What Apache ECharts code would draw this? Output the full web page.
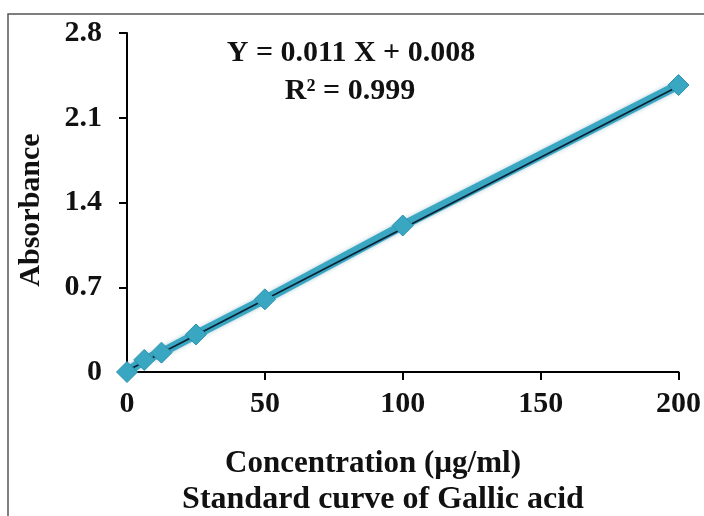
<!DOCTYPE html>
<html>
<head>
<meta charset="utf-8">
<script src="https://cdn.jsdelivr.net/npm/echarts@6/dist/echarts.min.js"></script>
<style>
  html, body { margin: 0; padding: 0; background: #fff; }
  #chart { width: 704px; height: 516px; }
</style>
</head>
<body>
<div id="chart"></div>
<script>
    // data
    const concentration = [0, 6.25, 12.5, 25, 50, 100, 200];
    const absorbance = [0, 0.1, 0.16, 0.31, 0.6, 1.21, 2.37];
    const trendX = [0, 200];
    const trendY = [0.01, 2.36];
    const xTicks = [0, 50, 100, 150, 200];
    const yTicks = [0, 0.7, 1.4, 2.1, 2.8];
    const equation = 'Y = 0.011 X + 0.008';
    const rSquared = 'R² = 0.999';

    const font = '"Liberation Serif", "Times New Roman", serif';
    const teal = '#3aa7c2';
    const txt = 'bold 30px ' + font;

    let myChart = echarts.init(document.getElementById('chart'));
    myChart.setOption({
        animation: false,
        backgroundColor: '#fff',
        grid: {
            left: 127,
            right: 24,
            top: 33,
            bottom: 144
        },
        graphic: [
            {
                type: 'rect',
                shape: {x: 8, y: 14, width: 740, height: 560},
                style: {fill: 'none', stroke: '#555', lineWidth: 1.5},
                silent: true
            },
            {
                type: 'text',
                x: 351, y: 53,
                style: {text: equation, font: txt, fill: '#111', align: 'center', verticalAlign: 'middle'}
            },
            {
                type: 'text',
                x: 350, y: 91,
                style: {text: rSquared, font: txt, fill: '#111', align: 'center', verticalAlign: 'middle'}
            },
            {
                type: 'text',
                x: 373, y: 464,
                style: {text: 'Concentration (µg/ml)', font: 'bold 31px ' + font, fill: '#111', align: 'center', verticalAlign: 'middle'}
            },
            {
                type: 'text',
                x: 383, y: 500,
                style: {text: 'Standard curve of Gallic acid', font: 'bold 32px ' + font, fill: '#111', align: 'center', verticalAlign: 'middle'}
            },
            {
                type: 'text',
                x: 31, y: 210,
                rotation: Math.PI / 2,
                style: {text: 'Absorbance', font: txt, fill: '#111', align: 'center', verticalAlign: 'middle'}
            }
        ],
        xAxis: {
            type: 'value',
            min: xTicks[0],
            max: xTicks[xTicks.length - 1],
            interval: xTicks[1] - xTicks[0],
            splitLine: {show: false},
            axisLine: {lineStyle: {color: '#000', width: 2}},
            axisTick: {show: true, length: 8, lineStyle: {color: '#000', width: 2}},
            axisLabel: {
                margin: 17,
                color: '#111',
                fontFamily: font,
                fontWeight: 'bold',
                fontSize: 30
            }
        },
        yAxis: {
            type: 'value',
            min: yTicks[0],
            max: yTicks[yTicks.length - 1],
            interval: 0.7,
            splitLine: {show: false},
            axisLine: {show: true, lineStyle: {color: '#000', width: 2}},
            axisTick: {show: true, length: 8, lineStyle: {color: '#000', width: 2}},
            axisLabel: {
                margin: 25,
                color: '#111',
                fontFamily: font,
                fontWeight: 'bold',
                fontSize: 30,
                formatter: function (v) {
                    return String(Math.round(v * 10) / 10);
                }
            }
        },
        series: [
            {
                name: 'Absorbance',
                type: 'line',
                data: concentration.map((x, i) => [x, absorbance[i]]),
                symbol: 'diamond',
                symbolSize: 21,
                lineStyle: {color: teal, width: 9, shadowColor: 'rgba(30,110,140,0.35)', shadowBlur: 4},
                itemStyle: {color: teal, borderColor: '#2d93ad', borderWidth: 1}
            },
            {
                name: 'Trend',
                type: 'line',
                data: trendX.map((x, i) => [x, trendY[i]]),
                symbol: 'none',
                lineStyle: {color: '#0b2236', width: 1.8}
            }
        ]
    });
</script>
</body>
</html>
